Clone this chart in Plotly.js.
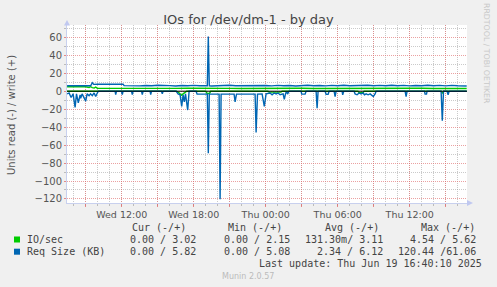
<!DOCTYPE html>
<html><head><meta charset="utf-8">
<script src="https://cdn.plot.ly/plotly-3.0.1.min.js"></script>
<style>html,body{margin:0;padding:0;background:#f0f0f0;overflow:hidden}#chart{width:497px;height:287px}</style>
</head><body><div id="chart"></div>
<script>
// ---- data (read = plotted negative, write = plotted positive) ----
const ioReadTimes = ["2025-06-18 07:27","2025-06-18 16:32","2025-06-18 16:42","2025-06-18 16:52","2025-06-18 17:00","2025-06-18 17:07","2025-06-18 17:17","2025-06-18 17:25","2025-06-18 19:00","2025-06-18 19:07","2025-06-18 19:19","2025-06-18 19:25","2025-06-19 00:11","2025-06-19 00:17","2025-06-19 01:16","2025-06-19 01:22","2025-06-19 07:41","2025-06-19 07:47","2025-06-19 08:07","2025-06-19 08:12","2025-06-19 14:37","2025-06-19 14:43","2025-06-19 14:49","2025-06-19 16:45"];
const ioReadValues = [0,0,1,3,4.5,3,1,0,0,2.5,2.5,0,0,1,1,0,0,1.8,1.8,0,0,2,0,0];

const ioWriteTimes = ["2025-06-18 07:27","2025-06-18 08:00","2025-06-18 08:30","2025-06-18 09:00","2025-06-18 09:17","2025-06-18 09:24","2025-06-18 09:33","2025-06-18 09:42","2025-06-18 09:50","2025-06-18 09:58","2025-06-18 10:30","2025-06-18 11:30","2025-06-18 12:30","2025-06-18 13:30","2025-06-18 14:30","2025-06-18 15:30","2025-06-18 16:30","2025-06-18 17:30","2025-06-18 18:30","2025-06-18 19:13","2025-06-18 20:00","2025-06-18 21:00","2025-06-18 22:00","2025-06-18 23:00","2025-06-19 00:00","2025-06-19 01:00","2025-06-19 02:00","2025-06-19 03:00","2025-06-19 04:00","2025-06-19 05:00","2025-06-19 06:00","2025-06-19 07:00","2025-06-19 08:00","2025-06-19 09:00","2025-06-19 10:00","2025-06-19 11:00","2025-06-19 12:00","2025-06-19 13:00","2025-06-19 14:00","2025-06-19 15:00","2025-06-19 16:00","2025-06-19 16:45"];
const ioWriteValues = [5.0,5.2,4.8,5.0,4.2,5.0,4.0,3.5,4.6,3.2,3.1,3.0,3.1,3.0,3.2,3.0,3.1,3.3,3.0,3.2,3.0,3.1,3.0,3.2,3.0,3.1,3.0,3.2,3.0,3.1,3.0,3.2,3.0,3.1,3.0,3.1,3.0,3.2,3.0,3.1,3.0,3.0];

const reqReadTimes = ["2025-06-18 07:27","2025-06-18 07:37","2025-06-18 07:47","2025-06-18 07:57","2025-06-18 08:07","2025-06-18 08:14","2025-06-18 08:23","2025-06-18 08:32","2025-06-18 08:35","2025-06-18 08:42","2025-06-18 08:49","2025-06-18 09:00","2025-06-18 09:07","2025-06-18 09:17","2025-06-18 09:24","2025-06-18 09:33","2025-06-18 09:42","2025-06-18 09:50","2025-06-18 09:58","2025-06-18 10:04","2025-06-18 11:27","2025-06-18 11:30","2025-06-18 11:34","2025-06-18 11:59","2025-06-18 12:03","2025-06-18 12:07","2025-06-18 12:49","2025-06-18 12:53","2025-06-18 12:57","2025-06-18 13:39","2025-06-18 13:43","2025-06-18 13:47","2025-06-18 14:22","2025-06-18 14:25","2025-06-18 14:29","2025-06-18 15:19","2025-06-18 15:23","2025-06-18 15:27","2025-06-18 16:32","2025-06-18 16:42","2025-06-18 16:52","2025-06-18 17:00","2025-06-18 17:07","2025-06-18 17:13","2025-06-18 17:19","2025-06-18 17:30","2025-06-18 17:37","2025-06-18 18:12","2025-06-18 18:17","2025-06-18 19:08","2025-06-18 19:13","2025-06-18 19:18","2025-06-18 20:07","2025-06-18 20:12","2025-06-18 20:17","2025-06-18 21:22","2025-06-18 21:27","2025-06-18 21:34","2025-06-18 23:07","2025-06-18 23:12","2025-06-18 23:19","2025-06-18 23:42","2025-06-18 23:53","2025-06-19 00:02","2025-06-19 00:22","2025-06-19 00:32","2025-06-19 00:42","2025-06-19 00:52","2025-06-19 01:02","2025-06-19 01:12","2025-06-19 01:27","2025-06-19 01:33","2025-06-19 01:39","2025-06-19 01:44","2025-06-19 01:49","2025-06-19 01:57","2025-06-19 02:57","2025-06-19 03:00","2025-06-19 03:17","2025-06-19 03:22","2025-06-19 04:12","2025-06-19 04:17","2025-06-19 04:22","2025-06-19 04:57","2025-06-19 05:02","2025-06-19 05:12","2025-06-19 05:17","2025-06-19 05:42","2025-06-19 05:47","2025-06-19 05:52","2025-06-19 06:22","2025-06-19 06:25","2025-06-19 06:30","2025-06-19 07:22","2025-06-19 07:27","2025-06-19 07:37","2025-06-19 07:47","2025-06-19 07:57","2025-06-19 08:07","2025-06-19 08:14","2025-06-19 08:22","2025-06-19 08:32","2025-06-19 08:42","2025-06-19 08:50","2025-06-19 08:58","2025-06-19 09:07","2025-06-19 09:12","2025-06-19 11:37","2025-06-19 11:42","2025-06-19 11:47","2025-06-19 13:14","2025-06-19 13:17","2025-06-19 13:24","2025-06-19 13:27","2025-06-19 14:37","2025-06-19 14:43","2025-06-19 14:49","2025-06-19 15:07","2025-06-19 15:12","2025-06-19 15:17","2025-06-19 16:45"];
const reqReadValues = [3,2,7,3,18,3,13,4,8,3,6,11,3,5,3,5,2,6,2,0,0,3.7,0,0,3.7,0,0,3.7,0,0,3.7,0,0,3.7,0,0,3,0,0,3,4,17,4,12,3,21,0,0,3.3,3.3,69,3.3,3.3,120.4,3.3,3.3,12,3.3,3.3,46,3.3,3,17,3,2,4,2,3,2,4,3,9,3,0,3.3,0,0,3.3,3.3,0,0,19,0,0,3.5,3.5,0,0,6,0,0,4,0,0,3,4,2,3,2,4,3,4,3,5,6,3,0,0,6,0,0,3.3,3.3,0,0,33,0,0,4,0,0];

const reqWriteTimes = ["2025-06-18 07:27","2025-06-18 07:50","2025-06-18 08:15","2025-06-18 08:40","2025-06-18 09:05","2025-06-18 09:25","2025-06-18 09:33","2025-06-18 09:40","2025-06-18 10:00","2025-06-18 10:30","2025-06-18 11:00","2025-06-18 11:30","2025-06-18 12:00","2025-06-18 12:07","2025-06-18 12:12","2025-06-18 12:30","2025-06-18 13:00","2025-06-18 13:30","2025-06-18 14:00","2025-06-18 14:30","2025-06-18 15:00","2025-06-18 15:30","2025-06-18 16:00","2025-06-18 16:30","2025-06-18 17:00","2025-06-18 17:30","2025-06-18 18:00","2025-06-18 18:30","2025-06-18 19:00","2025-06-18 19:08","2025-06-18 19:13","2025-06-18 19:18","2025-06-18 19:30","2025-06-18 20:00","2025-06-18 20:30","2025-06-18 21:00","2025-06-18 21:30","2025-06-18 22:00","2025-06-18 22:30","2025-06-18 23:00","2025-06-18 23:30","2025-06-19 00:00","2025-06-19 00:30","2025-06-19 01:00","2025-06-19 01:30","2025-06-19 02:00","2025-06-19 02:30","2025-06-19 03:00","2025-06-19 03:30","2025-06-19 04:00","2025-06-19 04:30","2025-06-19 05:00","2025-06-19 05:30","2025-06-19 06:00","2025-06-19 06:30","2025-06-19 07:00","2025-06-19 07:30","2025-06-19 08:00","2025-06-19 08:30","2025-06-19 09:00","2025-06-19 09:30","2025-06-19 10:00","2025-06-19 10:30","2025-06-19 11:00","2025-06-19 11:30","2025-06-19 12:00","2025-06-19 12:30","2025-06-19 13:00","2025-06-19 13:30","2025-06-19 14:00","2025-06-19 14:30","2025-06-19 15:00","2025-06-19 15:30","2025-06-19 16:00","2025-06-19 16:30","2025-06-19 16:45"];
const reqWriteValues = [6.0,6.1,5.9,6.2,6.0,6.1,9.5,7.6,7.8,7.6,8.0,7.7,7.9,7.8,6.2,6.0,6.5,5.9,6.3,6.0,6.6,6.0,6.2,5.8,6.4,6.0,6.5,6.0,6.2,6.0,61.0,6.0,5.8,6.3,6.0,6.6,6.0,6.2,5.9,6.5,6.0,6.3,5.9,6.5,6.0,6.4,5.8,6.2,6.6,6.0,6.4,5.9,6.5,6.0,6.6,6.0,6.3,5.9,6.6,6.0,6.5,6.0,6.6,6.1,6.5,5.9,6.4,6.0,6.6,6.0,6.5,5.9,6.5,6.0,5.8,5.8];

const xTickVals = ["2025-06-18 09:00","2025-06-18 12:00","2025-06-18 15:00","2025-06-18 18:00","2025-06-18 21:00","2025-06-19 00:00","2025-06-19 03:00","2025-06-19 06:00","2025-06-19 09:00","2025-06-19 12:00","2025-06-19 15:00"];
const xTickText = ["","Wed 12:00","","Wed 18:00","","Thu 00:00","","Thu 06:00","","Thu 12:00",""];

const seriesNames = ["IO/sec","Req Size (KB)"];
const colHeaders = ["Cur (-/+)","Min (-/+)","Avg (-/+)","Max (-/+)"];
const ioStats = ["0.00 / 3.02","0.00 / 2.15","131.30m/ 3.11","4.54 / 5.62"];
const reqStats = ["0.00 / 5.82","0.00 / 5.08","2.34 / 6.12","120.44 /61.06"];
const titleText = "IOs for /dev/dm-1 - by day";
const yTitle = "Units read (-) / write (+)";
const lastUpdate = "Last update: Thu Jun 19 16:40:10 2025";
const footer = "Munin 2.0.57";
const sideText = "RRDTOOL / TOBI OETIKER";

// ---- layout helpers (pixel -> paper) ----
const W = 497, H = 287, L = 67, R = 467, T = 25, B = 203;
const px = x => (x - L) / (R - L);
const py = y => (B - y) / (B - T);

const GREEN = '#00CC00', BLUE = '#0066B3';
const neg = a => a.map(v => -v);

const traces = [
  {x: ioReadTimes, y: neg(ioReadValues), type: 'scatter', mode: 'lines', line: {color: GREEN, width: 1.4}},
  {x: ioWriteTimes, y: ioWriteValues, type: 'scatter', mode: 'lines', line: {color: GREEN, width: 1.4}},
  {x: reqReadTimes, y: neg(reqReadValues), type: 'scatter', mode: 'lines', line: {color: BLUE, width: 1.4}},
  {x: reqWriteTimes, y: reqWriteValues, type: 'scatter', mode: 'lines', line: {color: BLUE, width: 1.4}}
];

const MAJ = 'rgba(225,110,110,0.65)', MIN = 'rgba(150,150,150,0.5)';
const mono = {family: 'DejaVu Sans Mono', size: 10, color: '#444'};

const ann = [];
ann.push({text: yTitle, x: px(11), y: py(115), xref: 'paper', yref: 'paper', textangle: -90, showarrow: false, xanchor: 'center', yanchor: 'middle', font: {family: 'DejaVu Sans', size: 10, color: '#555'}});
ann.push({text: sideText, x: px(487), y: py(53), xref: 'paper', yref: 'paper', textangle: 90, showarrow: false, xanchor: 'center', yanchor: 'middle', font: {family: 'DejaVu Sans', size: 7.8, color: '#c8c8c8'}});
const headerRight = [188, 284, 380.5, 476.5];
const valRight = [198, 291.5, 385, 477.5];
colHeaders.forEach((h, i) => ann.push({text: h, x: px(headerRight[i]), y: py(227.7), xref: 'paper', yref: 'paper', showarrow: false, xanchor: 'right', yanchor: 'middle', font: mono}));
[[seriesNames[0], ioStats, 239.5], [seriesNames[1], reqStats, 251.7]].forEach(([name, stats, yy]) => {
  ann.push({text: name, x: px(25), y: py(yy), xref: 'paper', yref: 'paper', showarrow: false, xanchor: 'left', yanchor: 'middle', font: mono});
  stats.forEach((s, i) => ann.push({text: s, x: px(valRight[i]), y: py(yy), xref: 'paper', yref: 'paper', showarrow: false, xanchor: 'right', yanchor: 'middle', font: mono}));
});
ann.push({text: lastUpdate, x: px(483.5), y: py(263.8), xref: 'paper', yref: 'paper', showarrow: false, xanchor: 'right', yanchor: 'middle', font: mono});
ann.push({text: footer, x: px(248), y: py(276), xref: 'paper', yref: 'paper', showarrow: false, xanchor: 'center', yanchor: 'middle', font: {family: 'DejaVu Sans', size: 8, color: '#bbbbbb'}});

const shapes = [
  {type: 'line', xref: 'paper', yref: 'y', x0: 0, x1: 1, y0: 0, y1: 0, line: {color: '#000', width: 1}, layer: 'above'},
  {type: 'path', xref: 'paper', yref: 'paper', path: `M ${px(467)} ${py(200)} L ${px(473)} ${py(203)} L ${px(467)} ${py(206)} Z`, fillcolor: '#c0c8f0', line: {width: 0}},
  {type: 'path', xref: 'paper', yref: 'paper', path: `M ${px(64)} ${py(25.5)} L ${px(67)} ${py(20)} L ${px(70)} ${py(25.5)} Z`, fillcolor: '#c0c8f0', line: {width: 0}},
  {type: 'rect', xref: 'paper', yref: 'paper', x0: px(14), x1: px(20), y0: py(242.5), y1: py(236.5), fillcolor: GREEN, line: {width: 0}},
  {type: 'rect', xref: 'paper', yref: 'paper', x0: px(14), x1: px(20), y0: py(254.7), y1: py(248.7), fillcolor: BLUE, line: {width: 0}}
];

const layout = {
  width: W, height: H,
  margin: {l: L, r: W - R, t: T, b: H - B, pad: 0},
  paper_bgcolor: '#f0f0f0', plot_bgcolor: '#ffffff',
  showlegend: false,
  title: {text: titleText, x: 0.5, xanchor: 'center', y: 1 - 19.5 / H, yanchor: 'middle', yref: 'container', font: {family: 'DejaVu Sans', size: 13, color: '#444'}},
  xaxis: {
    type: 'date', range: ["2025-06-18 07:26:30", "2025-06-19 16:46:30"],
    tickmode: 'array', tickvals: xTickVals, ticktext: xTickText,
    showgrid: true, gridcolor: MAJ, griddash: '1px,1px', gridwidth: 1,
    ticks: 'outside', ticklen: 3, tickcolor: 'rgba(225,110,110,0.8)',
    showline: true, linecolor: '#c8d0ee', linewidth: 1, zeroline: false,
    tickfont: {family: 'DejaVu Sans', size: 9.5, color: '#555'},
    minor: {tickmode: 'linear', tick0: "2025-06-18 00:00", dtick: 3600000, showgrid: true, gridcolor: MIN, griddash: '1px,1px', ticks: 'outside', ticklen: 2, tickcolor: '#bbb'},
    fixedrange: true
  },
  yaxis: {
    range: [-124.5, 73.7], tickmode: 'linear', tick0: 0, dtick: 20,
    showgrid: true, gridcolor: MAJ, griddash: '1px,1px', gridwidth: 1,
    ticks: 'outside', ticklen: 2, tickcolor: 'rgba(225,110,110,0.8)',
    showline: true, linecolor: '#c8d0ee', linewidth: 1, zeroline: false,
    tickfont: {family: 'DejaVu Sans', size: 10, color: '#555'},
    minor: {tickmode: 'linear', tick0: 0, dtick: 10, showgrid: true, gridcolor: MIN, griddash: '1px,1px', ticks: 'outside', ticklen: 2, tickcolor: '#bbb'},
    fixedrange: true
  },
  annotations: ann,
  shapes: shapes
};

Plotly.newPlot('chart', traces, layout, {staticPlot: true, displayModeBar: false});
</script>
</body></html>
